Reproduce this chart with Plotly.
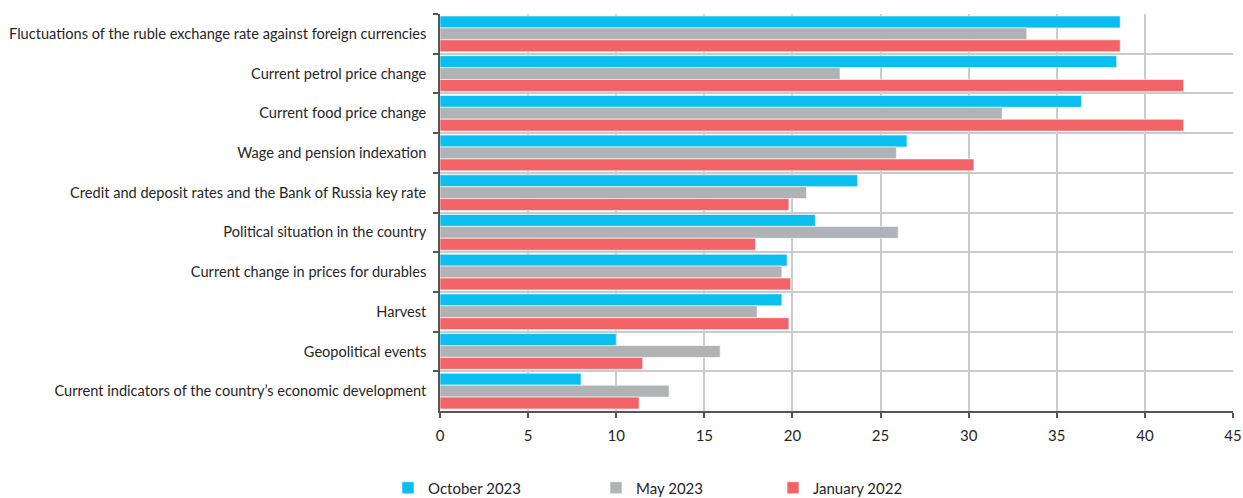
import plotly.graph_objects as go

categories = [
    "Fluctuations of the ruble exchange rate against foreign currencies",
    "Current petrol price change",
    "Current food price change",
    "Wage and pension indexation",
    "Credit and deposit rates and the Bank of Russia key rate",
    "Political situation in the country",
    "Current change in prices for durables",
    "Harvest",
    "Geopolitical events",
    "Current indicators of the country\u2019s economic development",
]
october_2023 = [38.6, 38.4, 36.4, 26.5, 23.7, 21.3, 19.7, 19.4, 10.0, 8.0]
may_2023 = [33.3, 22.7, 31.9, 25.9, 20.8, 26.0, 19.4, 18.0, 15.9, 13.0]
january_2022 = [38.6, 42.2, 42.2, 30.3, 19.8, 17.9, 19.9, 19.8, 11.5, 11.3]

series = [
    ("October 2023", october_2023, "#0ABEF0", "legend"),
    ("May 2023", may_2023, "#AFB3B5", "legend2"),
    ("January 2022", january_2022, "#F26368", "legend3"),
]

FONT = "Lato, Roboto, sans-serif"
TEXT = "#262626"
GRID = "#c9cbcc"
AXIS = "#555555"

fig = go.Figure()
for name, vals, color, lg in series:
    fig.add_trace(go.Bar(
        name=name, x=vals, y=categories, orientation="h",
        marker=dict(color=color, line=dict(color="white", width=0.6)),
        legend=lg, showlegend=True,
    ))

legend_style = dict(
    orientation="h", xref="container", yref="container",
    yanchor="middle", y=0.02, xanchor="left",
    font=dict(family=FONT, size=15, color=TEXT),
    bgcolor="rgba(0,0,0,0)", itemwidth=30,
)

fig.update_layout(
    width=1243, height=498,
    margin=dict(l=440, r=10, t=14, b=87, autoexpand=False),
    paper_bgcolor="white", plot_bgcolor="white",
    barmode="group", bargap=0.1, bargroupgap=0,
    font=dict(family=FONT, size=15, color=TEXT),
    legend=dict(legend_style, x=388 / 1243),
    legend2=dict(legend_style, x=596 / 1243),
    legend3=dict(legend_style, x=773 / 1243),
    xaxis=dict(
        range=[0, 45], dtick=5, tick0=0,
        showgrid=True, gridcolor=GRID, gridwidth=1.5,
        showline=True, linecolor=AXIS, linewidth=1.5,
        ticks="outside", ticklen=5, tickcolor=AXIS, tickwidth=1.5,
        tickfont=dict(family=FONT, size=15, color=TEXT),
        ticklabelstandoff=5,
        zeroline=False, fixedrange=True, automargin=False,
    ),
    yaxis=dict(
        type="category", autorange="reversed",
        tickson="boundaries",
        showgrid=True, gridcolor=GRID, gridwidth=1.5,
        showline=True, linecolor=AXIS, linewidth=1.5,
        ticks="outside", ticklen=5, tickcolor=AXIS, tickwidth=1.5,
        tickfont=dict(family=FONT, size=14.6, color=TEXT),
        ticklabelstandoff=9,
        zeroline=False, fixedrange=True, automargin=False,
    ),
)

fig.write_html("out.html")
